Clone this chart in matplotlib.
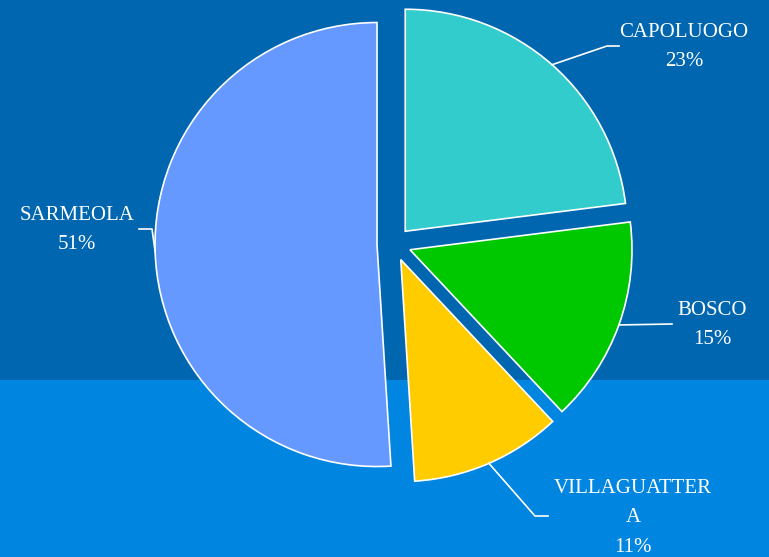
import numpy as np
import matplotlib.pyplot as plt
from matplotlib.patches import Rectangle

# data
zones = ['CAPOLUOGO', 'BOSCO', 'VILLAGUATTERA', 'SARMEOLA']
label_text = ['CAPOLUOGO\n23%', 'BOSCO\n15%', 'VILLAGUATTER\nA\n11%', 'SARMEOLA\n51%']
shares = [23, 15, 11, 51]
colors = ['#33CCCC', '#00C800', '#FFCC00', '#6699FF']

W, H = 769, 557
fig = plt.figure(figsize=(W / 100, H / 100), dpi=100)
fig.patch.set_facecolor('#0066B0')
ax = fig.add_axes([0, 0, 1, 1])

# lower band of the background
ax.add_patch(Rectangle((0, 0), W, H - 380, facecolor='#0085E0', edgecolor='none', zorder=0))

cx, cy, r, expl = 394, 313, 222, 17
wedges, _ = ax.pie(shares, colors=colors, startangle=90, counterclock=False,
                   center=(cx, cy), radius=r, explode=[expl] * len(shares),
                   wedgeprops=dict(edgecolor='white', linewidth=1.2), frame=True)
ax.set_xlim(0, W)
ax.set_ylim(0, H)
ax.set_aspect('equal')
ax.axis('off')

# label positions (text centre) and leader elbows / ends
text_pos = [(684, 510), (712, 232), (633, 39), (77, 327)]
elbows = [[(607, 511), (619, 511)],
          [(672, 233)],
          [(535, 41), (548, 41)],
          [(152, 328), (139, 328)]]

for w, txt, tp, elb in zip(wedges, label_text, text_pos, elbows):
    mid = np.deg2rad((w.theta1 + w.theta2) / 2)
    wx, wy = w.center
    start = (wx + r * np.cos(mid), wy + r * np.sin(mid))
    pts = [start] + elb
    xs, ys = zip(*pts)
    ax.plot(xs, ys, color='white', lw=1.2, zorder=3)
    ax.text(tp[0], tp[1], txt, color='white', fontsize=15, family='Liberation Serif',
            ha='center', va='center', linespacing=1.72, zorder=4)

fig.savefig('out.png', dpi=100, facecolor=fig.get_facecolor())
